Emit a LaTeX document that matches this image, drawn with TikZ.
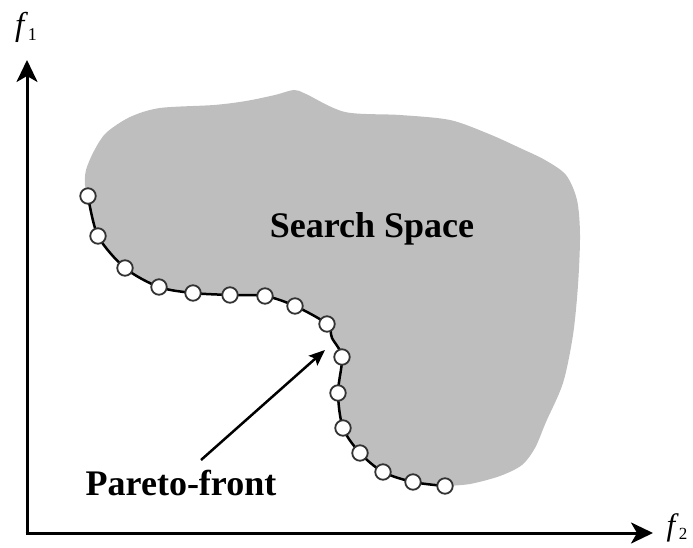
\documentclass[tikz,border=0pt]{standalone}
\usepackage{fontspec}
\setmainfont{Liberation Serif}
\usetikzlibrary{arrows.meta}
\definecolor{blobgray}{RGB}{190,190,191}
\tikzset{
  axis/.style={line width=3pt,-{Stealth[length=22pt,width=21pt,inset=6pt]}},
  blob/.style={fill=blobgray},
  front/.style={line width=2.5pt,black},
  pt/.style={circle,draw=black!80,line width=1.8pt,fill=white,minimum size=15.5pt,inner sep=0pt},
  lbl/.style={font=\fontsize{36}{36}\selectfont\bfseries,inner sep=0pt},
  pointer/.style={line width=2.5pt,-{Stealth[length=16pt,width=13pt,inset=3pt]}},
}
\begin{document}
\begin{tikzpicture}[x=1pt,y=-1pt]
\useasboundingbox (0,0) rectangle (693,548);
% Pareto points
\coordinate (p1) at (88,196);
\coordinate (p2) at (98,236);
\coordinate (p3) at (125,268);
\coordinate (p4) at (159,287);
\coordinate (p5) at (193,293);
\coordinate (p6) at (230,295);
\coordinate (p7) at (265,296);
\coordinate (p8) at (295,306);
\coordinate (p9) at (327,324);
\coordinate (p10) at (342,357);
\coordinate (p11) at (338,393);
\coordinate (p12) at (343,428);
\coordinate (p13) at (360,453);
\coordinate (p14) at (383,472);
\coordinate (p15) at (413,482);
\coordinate (p16) at (445,486);
% search space
\fill[blob] plot[smooth,tension=0.5] coordinates {(p16) (470,484) (500,476) (522,465) (535,448) (546,422) (563,383) (573,335) (578,285) (580,235) (577,200) (566,175) (545,160) (520,148) (489,134) (450,120) (400,115) (345,112) (306,94) (294,90) (275,95) (246,101) (214,105) (160,108) (130,117) (106,133) (94,151) (86,170) (85,185) (p1)}
  -- plot[smooth,tension=0.5] coordinates {(p1) (p2) (p3) (p4) (p5) (p6) (p7) (p8) (p9) (332,338) (p10) (p11) (p12) (p13) (p14) (p15) (p16)} -- cycle;
% front line
\draw[front] plot[smooth,tension=0.5] coordinates {(p1) (p2) (p3) (p4) (p5) (p6) (p7) (p8) (p9) (332,338) (p10) (p11) (p12) (p13) (p14) (p15) (p16)};
\foreach \i in {1,...,16} \node[pt] (c\i) at (p\i) {};
% axes
\coordinate (origin) at (27,533);
\coordinate (ytip) at (27,60);
\coordinate (xtip) at (653,533);
\draw[axis] (origin) -- (ytip);
\draw[axis] ([xshift=-1.5pt]origin) -- (xtip);
\node[inner sep=0pt,anchor=base] (f1) at (26,36) {\fontsize{33}{33}\selectfont\textit{f}\raisebox{-5pt}{\fontsize{18}{18}\selectfont 1}};
\node[inner sep=0pt,anchor=base] (f2) at (677,535) {\fontsize{31}{31}\selectfont\textit{f}\raisebox{-4pt}{\fontsize{17}{17}\selectfont 2}};
% labels
\node[lbl,anchor=base] (ss) at (372,237) {Search Space};
\node[lbl,anchor=base] (pf) at (181,495) {Pareto-front};
\coordinate (tail) at (201,460);
\coordinate (tip) at (325,350);
\draw[pointer] (tail) -- (tip);
\end{tikzpicture}
\end{document}
